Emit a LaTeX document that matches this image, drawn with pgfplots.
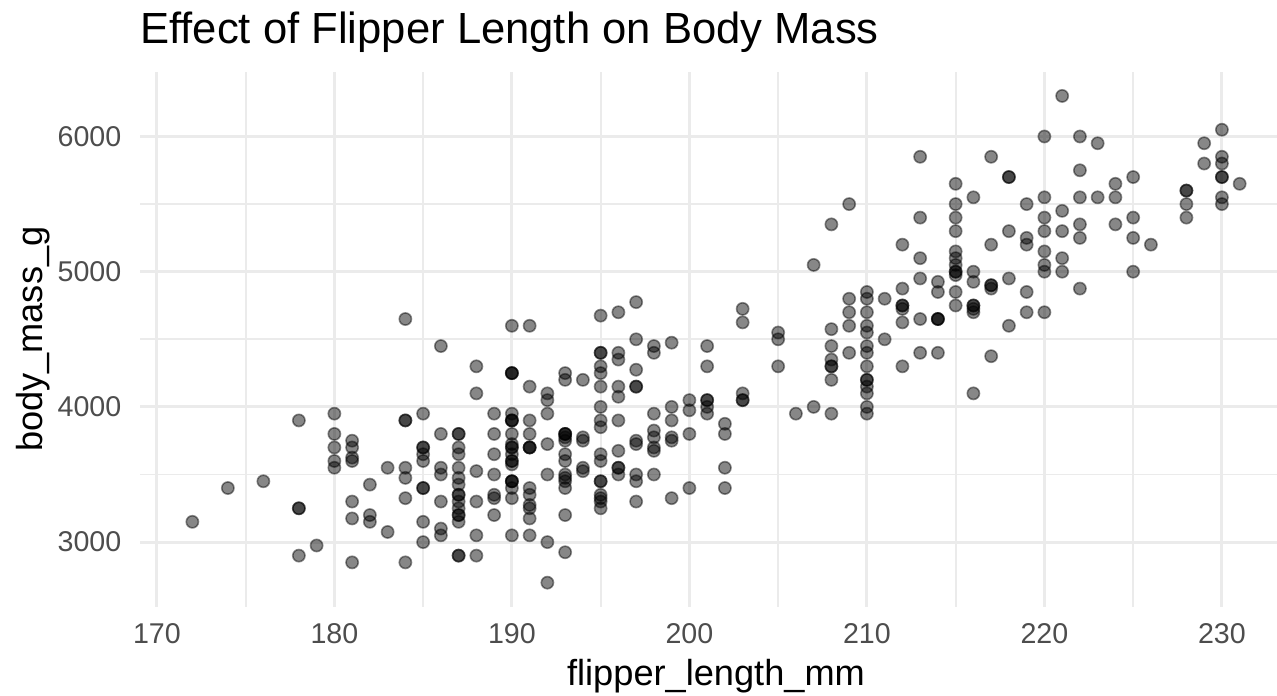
\documentclass[border=0pt]{standalone}
\usepackage{fontspec}
\setmainfont{Liberation Sans}
\usepackage{pgfplots}
\pgfplotsset{compat=1.18}
\usepackage{pgfplotstable}
\definecolor{gridc}{HTML}{EBEBEB}
\definecolor{tickc}{HTML}{4D4D4D}

\pgfplotstableread{
x y
181 3750
186 3800
195 3250
193 3450
190 3650
181 3625
195 4675
193 3475
190 4250
186 3300
180 3700
182 3200
191 3800
198 4400
185 3700
195 3450
197 4500
184 3325
194 4200
174 3400
180 3600
189 3800
185 3950
180 3800
187 3800
183 3550
187 3200
172 3150
180 3950
178 3250
178 3900
188 3300
184 3900
195 3325
196 4150
190 3950
180 3550
181 3300
184 4650
182 3150
195 3900
186 3100
196 4400
185 3000
190 4600
182 3425
179 2975
190 3450
191 4150
186 3500
188 4300
190 3450
200 4050
187 2900
191 3700
186 3550
193 3800
181 2850
194 3750
185 3150
195 4400
185 3600
192 4050
184 2850
192 3950
195 3350
188 4100
190 3050
198 4450
190 3600
190 3900
196 3550
197 4150
190 3700
195 4250
191 3700
184 3900
187 3550
195 4000
189 3200
196 4700
187 3800
193 4200
191 3350
194 3550
190 3800
189 3500
189 3950
190 3600
202 3550
205 4300
185 3400
186 4450
187 3300
208 4300
190 3700
196 4350
178 2900
192 4100
192 3725
203 4725
183 3075
190 4250
193 2925
184 3550
199 3750
190 3900
181 3175
197 4775
198 3825
191 4600
193 3200
197 4275
191 3900
196 4075
188 2900
199 3775
189 3350
189 3325
187 3150
198 3500
176 3450
202 3875
186 3050
199 4000
191 3275
195 4300
191 3050
210 4000
190 3325
197 3500
193 3500
199 4475
187 3425
190 3900
191 3175
200 3975
185 3400
193 4250
193 3400
187 3475
188 3050
190 3725
192 3000
185 3650
190 4250
184 3475
195 3450
193 3750
187 3700
201 4000
192 3500
196 3900
193 3650
188 3525
197 3725
198 3950
178 3250
197 3750
195 4150
198 3700
193 3800
194 3775
185 3700
201 4050
190 3575
201 4050
197 3300
181 3700
190 3450
195 4400
181 3600
191 3400
187 2900
193 3800
195 3300
197 4150
200 3400
200 3800
191 3700
205 4550
187 3200
201 4300
187 3350
203 4100
195 3600
199 3900
195 3850
210 4800
192 2700
205 4500
210 3950
187 3650
196 3550
196 3500
196 3675
201 4450
190 3400
212 4300
187 3250
198 3675
199 3325
201 3950
193 3600
203 4050
187 3350
197 3450
191 3250
203 4050
202 3800
194 3525
206 3950
189 3650
195 3650
207 4000
202 3400
193 3775
210 4100
198 3775
211 4500
230 5700
210 4450
218 5700
215 5400
210 4550
211 4800
219 5200
209 4400
215 5150
214 4650
216 5550
214 4650
213 5850
210 4200
217 5850
210 4150
221 6300
209 4800
222 5350
218 5700
215 5000
213 4400
215 5050
215 5000
215 5100
216 4100
215 5650
210 4600
220 5550
222 5250
209 4700
207 5050
230 6050
220 5150
220 5400
213 4950
219 5250
208 4350
208 5350
208 3950
225 5700
210 4300
216 4750
222 5550
217 4900
210 4200
225 5400
213 5100
215 5300
210 4850
220 5300
210 4400
225 5000
217 4900
220 5050
208 4300
220 5000
208 4450
224 5550
208 4200
221 5300
214 4400
231 5650
219 4700
230 5700
214 4650
229 5800
220 4700
223 5550
216 4750
221 5000
221 5100
217 5200
216 4700
230 5800
209 4600
220 6000
215 4750
223 5950
212 4625
221 5450
212 4725
224 5350
212 4750
228 5600
218 4600
218 5300
212 4875
230 5550
218 4950
228 5400
212 4750
224 5650
214 4850
226 5200
216 4925
222 4875
203 4625
225 5250
219 4850
228 5600
215 4975
228 5500
216 4725
215 5500
210 4700
219 5500
208 4575
209 5500
216 5000
229 5950
213 4650
230 5500
217 4375
230 5850
217 4875
222 6000
214 4925
215 4850
222 5750
212 5200
213 5400
}\penguins

\begin{document}
\begin{tikzpicture}
\begin{axis}[
  scale only axis, width=576pt, height=267.7pt,
  xmin=169.05, xmax=233.95, ymin=2520, ymax=6480,
  axis line style={draw=none},
  major tick length=0pt, minor tick length=0pt,
  xtick={170,180,190,200,210,220,230},
  ytick={3000,4000,5000,6000},
  minor xtick={175,185,195,205,215,225},
  minor ytick={3500,4500,5500},
  grid=both,
  major grid style={gridc, line width=1.5pt},
  minor grid style={gridc, line width=0.9pt},
  ticklabel style={font=\fontsize{14.3}{14.3}\selectfont, text=tickc},
  /pgf/number format/assume math mode=true,
  /pgf/number format/set thousands separator={},
  xticklabel style={anchor=north, inner sep=0pt, yshift=-8.15pt},
  yticklabel style={anchor=east, inner sep=0pt, xshift=-9.15pt},
  xlabel={flipper\_length\_mm}, ylabel={body\_mass\_g},
  label style={font=\fontsize{18.1}{18.1}\selectfont, inner sep=0pt},
  xlabel style={at={([yshift=-39.15pt]rel axis cs:0.5,0)}, anchor=base},
  ylabel style={at={([xshift=-48.5pt]rel axis cs:0,0.5)}, anchor=base},
]
\addplot[only marks, mark=*, mark size=3.05pt,
  mark options={draw=black, fill=black, draw opacity=0.45, fill opacity=0.47, line width=0.8pt}]
  table[x=x, y=y] {\penguins};
\coordinate (bl) at (rel axis cs:0,0);
\coordinate (tl) at (rel axis cs:0,1);
\end{axis}
\node[anchor=base west, inner sep=0pt, font=\fontsize{21.8}{21.8}\selectfont]
  at ([yshift=14pt]tl) {Effect of Flipper Length on Body Mass};
\pgfresetboundingbox
\path[use as bounding box] ([shift={(-70pt,-44pt)}]bl) rectangle ([shift={(568.5pt,35.8pt)}]tl);
\end{tikzpicture}
\end{document}
